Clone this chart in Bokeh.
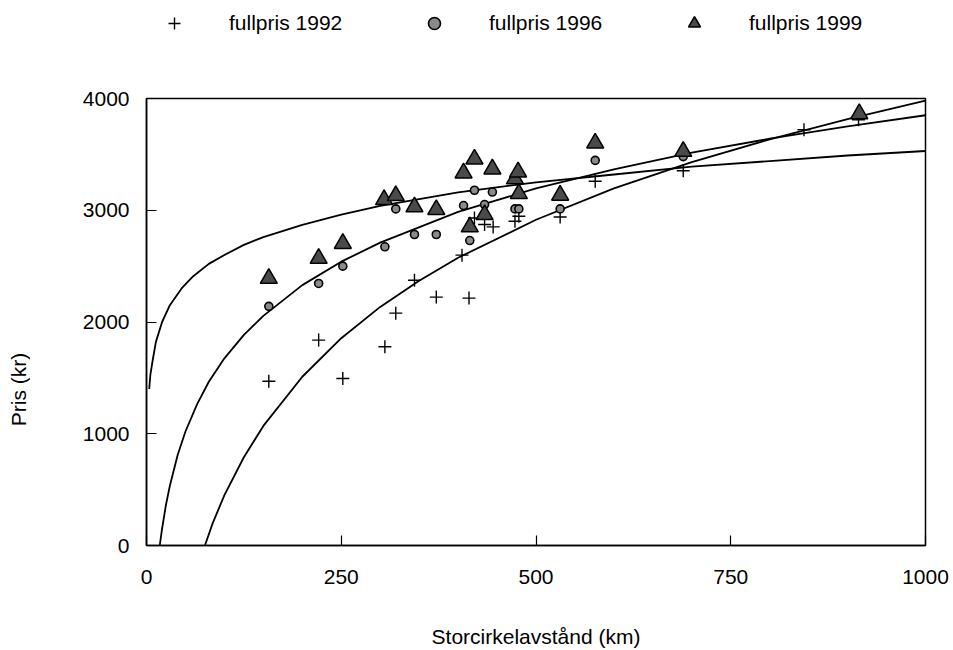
import math
from bokeh.plotting import figure
from bokeh.layouts import gridplot
from bokeh.models import Range1d, FixedTicker, Legend, LegendItem, Label
from bokeh.embed import file_html
from bokeh.resources import INLINE

# ---- data ----
dist_1992 = [157, 221, 252, 306, 320, 344, 372, 405, 414, 421, 434, 445, 473, 478, 531, 576, 689, 844, 914]
pris_1992 = [1470, 1838, 1495, 1778, 2079, 2373, 2223, 2598, 2214, 2931, 2872, 2851, 2902, 2946, 2940, 3259, 3354, 3720, 3810]

dist_1996 = [157, 221, 252, 306, 320, 344, 372, 407, 415, 421, 434, 444, 473, 478, 531, 576, 689, 914]
pris_1996 = [2140, 2345, 2500, 2673, 3012, 2783, 2783, 3042, 2729, 3179, 3051, 3163, 3012, 3012, 3012, 3446, 3480, 3850]

dist_1999 = [157, 221, 252, 305, 320, 344, 372, 407, 415, 421, 434, 444, 473, 477, 478, 531, 576, 689, 915]
pris_1999 = [2390, 2569, 2702, 3095, 3131, 3030, 3006, 3333, 2851, 3458, 2961, 3369, 3280, 3342, 3149, 3134, 3601, 3527, 3863]

# fitted curves
curve_x_1992 = [75, 85, 100, 125, 150, 200, 250, 300, 350, 400, 500, 600, 700, 800, 900, 1000]
curve_y_1992 = [0, 200, 450, 790, 1070, 1510, 1855, 2135, 2370, 2575, 2915, 3195, 3430, 3635, 3815, 3980]

curve_x_1996 = [17, 20, 25, 30, 40, 50, 65, 80, 100, 125, 150, 200, 250, 300, 400, 500, 600, 700, 800, 900, 1000]
curve_y_1996 = [0, 150, 365, 535, 810, 1020, 1265, 1465, 1675, 1885, 2055, 2330, 2540, 2710, 2985, 3195, 3365, 3515, 3640, 3750, 3850]

curve_x_1999 = [3.5, 5, 8, 12, 20, 30, 45, 60, 80, 100, 125, 150, 200, 250, 300, 400, 500, 600, 700, 800, 900, 1000]
curve_y_1999 = [1400, 1530, 1660, 1820, 2000, 2150, 2300, 2410, 2520, 2600, 2690, 2760, 2870, 2960, 3040, 3160, 3250, 3320, 3390, 3440, 3490, 3530]

x_ticks = [0, 250, 500, 750, 1000]
y_ticks = [0, 1000, 2000, 3000, 4000]

series_labels = ["fullpris 1992", "fullpris 1996", "fullpris 1999"]
x_title = "Storcirkelavstånd (km)"
y_title = "Pris (kr)"

FONT = "Liberation Sans"
FS = "21px"

# styles shared by the plot marks and the legend marks
cross_style = dict(marker="cross", size=13, line_color="black", line_width=1.4)
circle_style = dict(marker="circle", size=8, fill_color="#8a8a8a", line_color="black", line_width=1.6)
tri_style = dict(marker="triangle", size=17, fill_color="#4a4a4a", line_color="black", line_width=1.5)

LEG_H = 40     # height of the legend strip on top
YT_W = 30      # width of the y-title strip on the left
MAIN_W = 953 - YT_W
MAIN_H = 650 - LEG_H
B_LEFT, B_RIGHT, B_TOP, B_BOTTOM = 146 - YT_W, 28, 98 - LEG_H, 104

# ---------------- main plot ----------------
p = figure(width=MAIN_W, height=MAIN_H, output_backend="svg", toolbar_location=None,
           x_range=Range1d(0, 1000), y_range=Range1d(0, 4000),
           min_border_left=B_LEFT, min_border_right=B_RIGHT,
           min_border_top=B_TOP, min_border_bottom=B_BOTTOM)
p.grid.visible = False
p.outline_line_color = "black"
p.outline_line_width = 1.5
p.background_fill_color = "white"
p.border_fill_color = "white"

for ax, ticks in ((p.xaxis[0], x_ticks), (p.yaxis[0], y_ticks)):
    ax.ticker = FixedTicker(ticks=ticks)
    ax.major_tick_in = 10
    ax.major_tick_out = 0
    ax.minor_tick_line_color = None
    ax.axis_line_color = "black"
    ax.axis_line_width = 1.5
    ax.major_tick_line_color = "black"
    ax.major_tick_line_width = 1.2
    ax.major_label_text_font = FONT
    ax.major_label_text_font_size = FS
    ax.major_label_text_color = "black"
    ax.axis_label_text_font = FONT
    ax.axis_label_text_font_size = FS
    ax.axis_label_text_font_style = "normal"
    ax.axis_label_text_color = "black"
p.yaxis[0].major_label_standoff = 17
p.xaxis[0].major_label_standoff = 24
p.xaxis[0].axis_label = x_title
p.xaxis[0].axis_label_standoff = 38

# curves
p.line(curve_x_1992, curve_y_1992, line_color="black", line_width=1.8)
p.line(curve_x_1996, curve_y_1996, line_color="black", line_width=1.8)
p.line(curve_x_1999, curve_y_1999, line_color="black", line_width=1.8)

# points
p.scatter(dist_1992, pris_1992, **cross_style)
p.scatter(dist_1996, pris_1996, **circle_style)
p.scatter(dist_1999, pris_1999, **tri_style)

# ---------------- y-title strip on the left ----------------
yf = figure(width=YT_W, height=MAIN_H, output_backend="svg", toolbar_location=None,
            x_range=Range1d(0, 1), y_range=Range1d(0, 1),
            min_border_left=0, min_border_right=0, min_border_top=B_TOP, min_border_bottom=B_BOTTOM)
yf.axis.visible = False
yf.grid.visible = False
yf.outline_line_color = None
yf.background_fill_color = "white"
yf.border_fill_color = "white"
yf.add_layout(Label(x=18, y=156, x_units="screen", y_units="screen", text=y_title,
                    angle=math.pi / 2, text_align="center", text_baseline="middle",
                    text_font=FONT, text_font_size=FS, text_color="black"))

# ---------------- legend strip on top ----------------
lf = figure(width=MAIN_W, height=LEG_H, output_backend="svg", toolbar_location=None,
            x_range=Range1d(0, 1), y_range=Range1d(0, 1),
            min_border_left=B_LEFT, min_border_right=B_RIGHT, min_border_top=0, min_border_bottom=0)
lf.axis.visible = False
lf.grid.visible = False
lf.outline_line_color = None
lf.background_fill_color = "white"
lf.border_fill_color = "white"
# legend-only renderers: their single point lies outside this strip's range, so only the legend shows it
k92 = lf.scatter(x=dist_1992[:1], y=pris_1992[:1], **cross_style)
k96 = lf.scatter(x=dist_1996[:1], y=pris_1996[:1], **circle_style)
k99 = lf.scatter(x=dist_1999[:1], y=pris_1999[:1], **tri_style)
legend = Legend(items=[LegendItem(label=series_labels[0], renderers=[k92]),
                       LegendItem(label=series_labels[1], renderers=[k96]),
                       LegendItem(label=series_labels[2], renderers=[k99])],
                location=(13, 2), orientation="horizontal", padding=0, margin=0,
                spacing=72, glyph_width=30, glyph_height=30, label_standoff=40,
                label_width=118,
                border_line_alpha=0, background_fill_alpha=0,
                label_text_font=FONT, label_text_font_size=FS, label_text_color="black")
lf.add_layout(legend, "center")

layout = gridplot([[None, lf], [yf, p]], toolbar_location=None)
open("out.html", "w").write(file_html(layout, INLINE))
